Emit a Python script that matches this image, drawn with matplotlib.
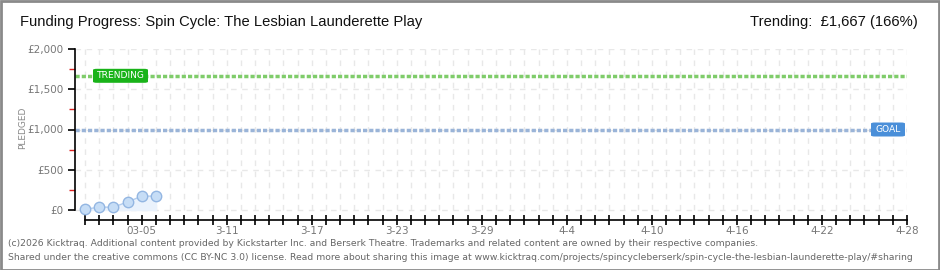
import matplotlib
matplotlib.use("Agg")
import matplotlib.pyplot as plt
from matplotlib.patches import Rectangle, FancyBboxPatch
import numpy as np

# ---- data ----
days = [0, 1, 2, 3, 4, 5]              # days since 03-01
pledged = [10, 35, 35, 100, 172, 172]  # GBP
goal = 1000
trending = 1667
tick_days = [4, 10, 16, 22, 28, 34, 40, 46, 52, 58]
tick_labels = ["03-05", "3-11", "3-17", "3-23", "3-29", "4-4", "4-10", "4-16", "4-22", "4-28"]
y_ticks = [0, 500, 1000, 1500, 2000]
y_labels = ["£0", "£500", "£1,000", "£1,500", "£2,000"]
last_day = 58

W, H = 940, 270
fig = plt.figure(figsize=(W / 100, H / 100), dpi=100)
fig.patch.set_facecolor("white")

# frame
fig.add_artist(Rectangle((0.5 / W, 0.5 / H), 1 - 1.5 / W, 1 - 1.5 / H, transform=fig.transFigure,
                         fill=False, edgecolor="#8a8a8a", linewidth=2))

def fx(px):
    return px / W

def fy(py):
    return 1 - py / H

# axes: x pixels 75..907, y pixels 49..220
ax = fig.add_axes([fx(75), fy(220), fx(907) - fx(75), fy(49) - fy(220)])
px_per_day = (907 - 85) / last_day
ax.set_xlim(-(85 - 75) / px_per_day, last_day)
px_per_gbp = (210 - 49) / 2000
ax.set_ylim(-(220 - 210) / px_per_gbp, 2000)
ax.set_facecolor("white")

# grid
for d in range(0, last_day + 1):
    ax.plot([d, d], [0, 2000], color="#e8e8e8", lw=1, ls=(0, (4, 4)), zorder=1)
for v in y_ticks:
    ax.plot([-0.7, last_day], [v, v], color="#e8e8e8", lw=1, ls=(0, (4, 4)), zorder=1)

# goal / trending lines
ax.plot([-0.7, last_day], [trending, trending], color="#7fcc6a", lw=2.5, ls=(0, (1.2, 0.6)), zorder=2)
ax.plot([-0.7, last_day], [goal, goal], color="#9ab4d8", lw=2.5, ls=(0, (1.2, 0.6)), zorder=2)

# data
ax.fill_between(days, pledged, 0, color="#eaf2fc", zorder=3)
ax.plot(days, pledged, color="#b3cdee", lw=1, zorder=4)
ax.plot(days, pledged, "o", ms=7.5, mfc="#c6ddf6", mec="#93b6e2", mew=1, zorder=5)

# spines
for s in ["top", "right"]:
    ax.spines[s].set_visible(False)
ax.spines["left"].set_bounds(0, 2000)
ax.spines["bottom"].set_bounds(0, last_day)
ax.spines["left"].set_linewidth(1.2)
ax.spines["bottom"].set_linewidth(1.2)

ax.set_yticks(y_ticks)
ax.set_yticklabels(y_labels, color="#777777", fontsize=7.5)
ax.set_yticks([250, 750, 1250, 1750], minor=True)
ax.tick_params(axis="y", which="major", length=5, width=1.2, color="black", pad=3)
ax.tick_params(axis="y", which="minor", length=4, width=1, color="#dd2222")

ax.set_xticks(tick_days)
ax.set_xticklabels(tick_labels, color="#777777", fontsize=7.5)
ax.set_xticks(range(0, last_day + 1), minor=True)
ax.tick_params(axis="x", which="both", direction="inout", length=7, width=1.2, color="black", pad=1)

ax.set_ylabel("PLEDGED", color="#888888", fontsize=6.5)
ax.yaxis.set_label_coords((27 - 75) / (907 - 75), (220 - 128) / (220 - 49))

# label boxes
def label_box(x0, y0, x1, y1, text, fc):
    fig.add_artist(FancyBboxPatch((fx(x0), fy(y1)), fx(x1) - fx(x0), fy(y0) - fy(y1),
                                  boxstyle="round,pad=0,rounding_size=0.004", transform=fig.transFigure,
                                  facecolor=fc, edgecolor="none", zorder=10))
    fig.text(fx((x0 + x1) / 2), fy((y0 + y1) / 2), text, color="white", fontsize=6.6,
             va="center", ha="center", zorder=11)

def py_of(v):
    return 210 - v * px_per_gbp

label_box(93, py_of(trending) - 7, 148, py_of(trending) + 7, "TRENDING", "#19b319")
label_box(871, py_of(goal) - 7, 905, py_of(goal) + 7, "GOAL", "#4a8fd9")

title_font = ["Liberation Sans", "DejaVu Sans"]
fig.text(fx(20), fy(22), "Funding Progress: Spin Cycle: The Lesbian Launderette Play",
         fontsize=10.6, family=title_font, va="center", ha="left", color="#111111")
fig.text(fx(918), fy(22), "Trending:  £1,667 (166%)",
         fontsize=10.6, family=title_font, va="center", ha="right", color="#111111")

fig.text(fx(8), fy(243), "(c)2026 Kicktraq. Additional content provided by Kickstarter Inc. and Berserk Theatre. "
         "Trademarks and related content are owned by their respective companies.",
         fontsize=6.7, color="#666666", va="center", ha="left")
fig.text(fx(8), fy(257), "Shared under the creative commons (CC BY-NC 3.0) license. Read more about sharing this image at "
         "www.kicktraq.com/projects/spincycleberserk/spin-cycle-the-lesbian-launderette-play/#sharing",
         fontsize=6.7, color="#666666", va="center", ha="left")

fig.savefig("out.png", dpi=100, facecolor="white")
